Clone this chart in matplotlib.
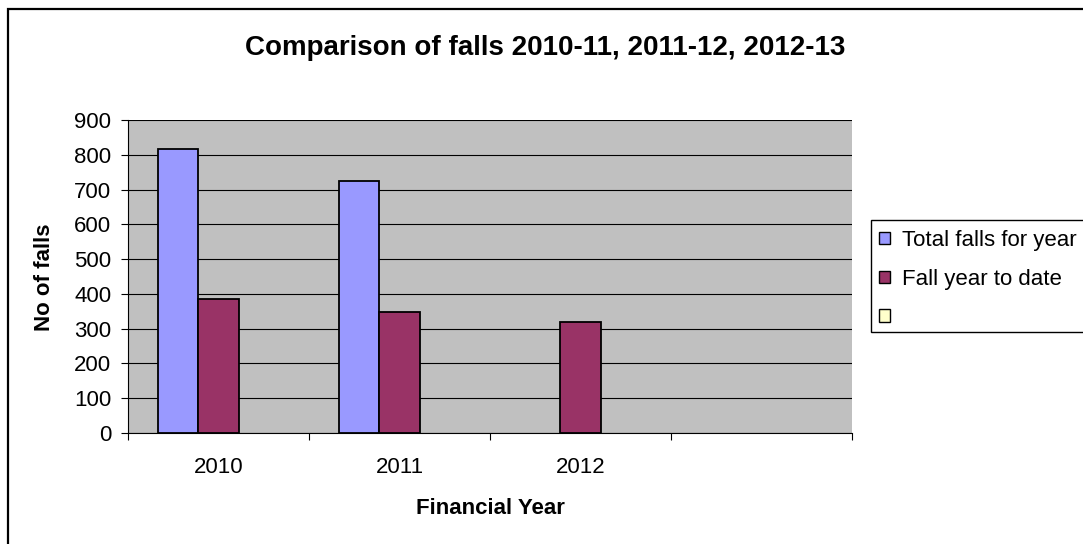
import numpy as np
import matplotlib
matplotlib.use('Agg')
import matplotlib.pyplot as plt
from matplotlib.patches import Patch, Rectangle

plt.rcParams['font.family'] = ['Liberation Sans', 'DejaVu Sans']

# data
years = ['2010', '2011', '2012', '']
total_falls = [816, 725, np.nan, np.nan]
fall_ytd = [385, 349, 318, np.nan]
third_series = [np.nan, np.nan, np.nan, np.nan]
series_names = ['Total falls for year', 'Fall year to date', ' ']
series_colors = ['#9999FF', '#993366', '#FFFFCC']
y_ticks = [0, 100, 200, 300, 400, 500, 600, 700, 800, 900]

W, H = 1083, 544
fs = 16
fig = plt.figure(figsize=(W / 100, H / 100), dpi=100)
ax = fig.add_axes([128 / W, 1 - 433 / H, (852 - 128) / W, (433 - 120) / H])
ax.set_facecolor('#C0C0C0')

# excel style: gap width 150% -> bar width = 1/4.5 of a category
w = 1 / 4.5
centers = np.arange(len(years)) + 0.5
for i, (vals, col) in enumerate(zip([total_falls, fall_ytd, third_series], series_colors)):
    ax.bar(centers + (i - 1) * w, vals, width=w, color=col, edgecolor='black',
           linewidth=1.3, zorder=3)

ax.set_xlim(0, len(years))
ax.set_ylim(0, 900)
ax.set_yticks(y_ticks)
ax.yaxis.grid(True, color='black', linewidth=0.8, zorder=1)
ax.set_axisbelow(True)

ax.set_xticks(np.arange(len(years) + 1))
ax.set_xticklabels([])
ax.set_xticks(centers, minor=True)
ax.set_xticklabels(years, minor=True)
ax.tick_params(axis='x', which='major', direction='out', length=5, width=0.8)
ax.tick_params(axis='x', which='minor', length=0, pad=17, labelsize=fs)
ax.tick_params(axis='y', direction='out', length=5, width=0.8, pad=7, labelsize=fs)

for s in ['top', 'right']:
    ax.spines[s].set_visible(False)
ax.spines['left'].set_linewidth(0.8)
ax.spines['bottom'].set_linewidth(0.8)

fig.text(545 / W, 1 - 48 / H, 'Comparison of falls 2010-11, 2011-12, 2012-13',
         ha='center', va='center', fontsize=20, fontweight='bold')
fig.text(490 / W, 1 - 508 / H, 'Financial Year', ha='center', va='center',
         fontsize=fs, fontweight='bold')
fig.text(45 / W, 1 - 277 / H, 'No of falls', ha='center', va='center',
         rotation=90, fontsize=fs, fontweight='bold')

# legend box runs off the right edge, so draw the frame by hand
fig.add_artist(Rectangle((871 / W, 1 - 332 / H), 0.3, 112 / H,
                         transform=fig.transFigure, facecolor='white',
                         edgecolor='black', linewidth=1))
handles = [Patch(facecolor=c, edgecolor='black', linewidth=1) for c in series_colors]
fig.legend(handles, series_names, loc='upper left',
           bbox_to_anchor=(879 / W, 1 - 230 / H), fontsize=fs,
           frameon=False, handlelength=0.5, handleheight=0.5, handletextpad=0.55,
           labelspacing=0.8, borderpad=0, borderaxespad=0)

# outer chart border (runs off the right and bottom edges)
fig.add_artist(Rectangle((8 / W, -0.05), 1.2, 1 - 9 / H + 0.05,
                         transform=fig.transFigure, fill=False,
                         edgecolor='black', linewidth=1.6))

fig.savefig('out.png', dpi=100)
